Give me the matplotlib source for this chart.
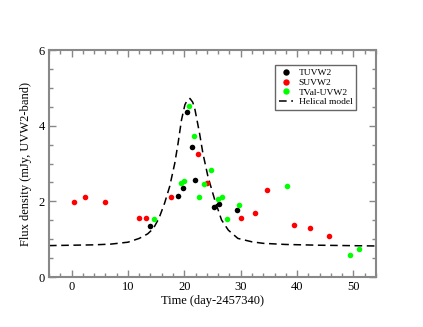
import matplotlib
matplotlib.use("Agg")
import matplotlib.pyplot as plt
from matplotlib.ticker import MultipleLocator

plt.rcParams['font.family'] = ['Liberation Serif', 'DejaVu Serif']

# TUVW2 (black)
t_x = [13.9, 18.8, 19.7, 20.4, 21.3, 21.9, 25.3, 26.1, 29.3]
t_y = [1.35, 2.13, 2.35, 4.37, 3.43, 2.57, 1.85, 1.92, 1.78]

# SUVW2 (red)
s_x = [0.4, 2.36, 6.0, 12.0, 13.2, 17.6, 22.4, 24.1, 30.1, 32.6, 34.6, 39.4, 42.3, 45.7]
s_y = [1.97, 2.11, 1.97, 1.57, 1.57, 2.11, 3.24, 2.49, 1.56, 1.70, 2.29, 1.37, 1.30, 1.09]

# TVal-UVW2 (green)
v_x = [14.7, 19.4, 19.9, 20.9, 21.8, 22.6, 23.5, 24.75, 25.9, 26.6, 27.6, 29.7, 38.3, 49.4, 50.9]
v_y = [1.53, 2.48, 2.54, 4.52, 3.74, 2.12, 2.46, 2.82, 2.06, 2.12, 1.54, 1.90, 2.41, 0.59, 0.74]

# Helical model
m_x = [-4, 0, 4, 7, 10, 12, 13.5, 14.5, 15.5, 16.5, 17.4, 18.3, 18.9, 19.5, 20.1,
       20.5, 21.0, 21.5, 21.9, 22.7, 23.3, 24.2, 25.4, 26.6, 27.8, 29.5, 32, 34, 38, 44, 54]
m_y = [0.83, 0.84, 0.85, 0.87, 0.92, 1.02, 1.14, 1.28, 1.55, 1.95, 2.39, 3.0, 3.54, 4.15, 4.55,
       4.67, 4.72, 4.62, 4.42, 3.80, 3.27, 2.65, 2.04, 1.51, 1.24, 1.02, 0.93, 0.89, 0.86, 0.84, 0.82]

fig = plt.figure(figsize=(4.23, 3.27), dpi=100)
ax = fig.add_axes([0.1158, 0.1529, 0.7731, 0.6941])

ax.plot(t_x, t_y, 'o', color='black', ms=4, mec='none', label='TUVW2', zorder=3)
ax.plot(s_x, s_y, 'o', color='#ff0000', ms=4, mec='none', label='SUVW2', zorder=3)
ax.plot(v_x, v_y, 'o', color='#00ff00', ms=4, mec='none', label='TVal-UVW2', zorder=3)
ax.plot(m_x, m_y, color='black', lw=1.1, dashes=(5, 3), label='Helical model', zorder=2)

ax.set_xlim(-4, 54)
ax.set_ylim(0, 6)
ax.xaxis.set_major_locator(MultipleLocator(10))
ax.xaxis.set_minor_locator(MultipleLocator(2))
ax.yaxis.set_major_locator(MultipleLocator(2))
ax.yaxis.set_minor_locator(MultipleLocator(0.5))

spine_c = '#888888'
for sp in ax.spines.values():
    sp.set_color(spine_c)
    sp.set_linewidth(1.5)
ax.tick_params(which='both', direction='in', top=True, right=True, color=spine_c,
               labelsize=9, pad=3)
ax.tick_params(which='major', length=5, width=1)
ax.tick_params(which='minor', length=3, width=1)

ax.set_xlabel('Time (day-2457340)', fontsize=9, labelpad=1)
ax.set_ylabel('Flux density (mJy, UVW2-band)', fontsize=9, labelpad=5)

leg = ax.legend(loc='upper right', bbox_to_anchor=(0.939, 0.934), fontsize=6.8,
                frameon=True, fancybox=False, edgecolor='#666666', framealpha=1,
                handlelength=1.5, borderpad=0.4, labelspacing=0.1, handletextpad=0.55,
                borderaxespad=0, numpoints=1, markerscale=1.15)
leg.get_frame().set_linewidth(1)

fig.savefig('out.png', dpi=100)
